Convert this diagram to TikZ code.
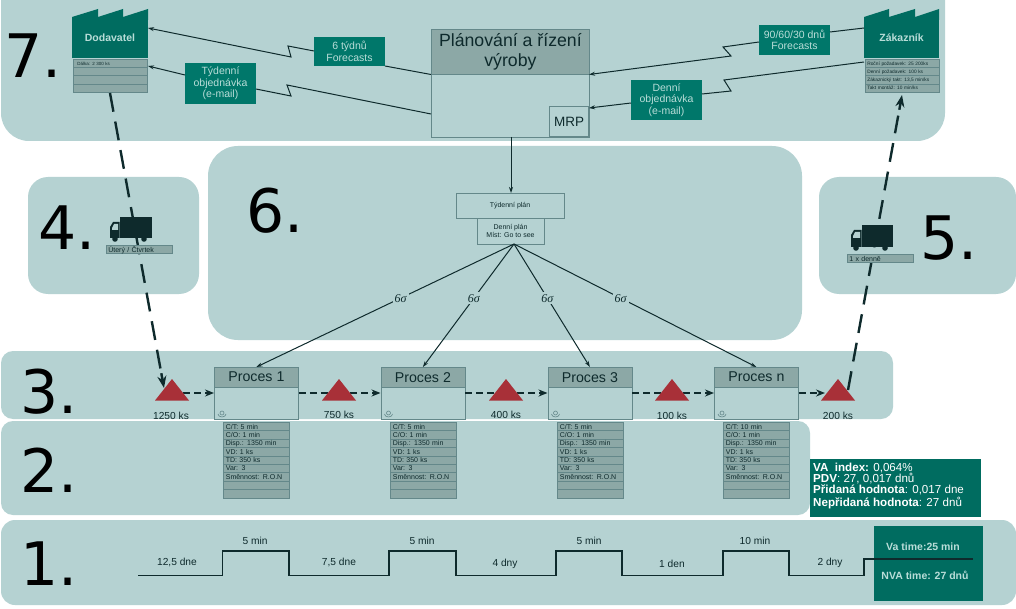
\documentclass[tikz,border=0pt]{standalone}
\usepackage{fontspec}
\setmainfont{Liberation Sans}
\newfontfamily\digitfont{DejaVu Sans}
\newfontfamily\sigmafont{Liberation Serif}
\usetikzlibrary{arrows.meta,calc}
\definecolor{panelc}{HTML}{B5D2D2}
\definecolor{tealdark}{HTML}{006C60}
\definecolor{tealbox}{HTML}{00776A}
\definecolor{tealtext}{HTML}{B9DDD8}
\definecolor{hdrgray}{HTML}{8CA8A6}
\definecolor{edgegray}{HTML}{64888A}
\definecolor{inkc}{HTML}{0E2A2C}
\definecolor{redtri}{HTML}{A83038}
\newcommand{\fsz}[1]{\fontsize{#1}{#1}\selectfont}
\tikzset{
  panel/.style={fill=panelc,draw=none},
  bignum/.style={anchor=base west,inner sep=0pt,text=black,font=\digitfont\fsz{60}},
  tealnote/.style={fill=tealbox,draw=none,text=tealtext,inner sep=0pt,align=center,font=\fsz{10.5},minimum width=71pt,minimum height=#1},
  factorybody/.style={fill=tealdark,draw=none,text=tealtext,inner sep=0pt,font=\bfseries\fsz{#1},minimum width=76pt,minimum height=41pt},
  rowbox/.style={fill=hdrgray,draw=edgegray,line width=.7pt,inner sep=0pt,anchor=north west,align=left,text=inkc,text depth=0pt},
  hdrbox/.style={fill=hdrgray,draw=edgegray,line width=.8pt,inner sep=0pt,text=inkc},
  bodybox/.style={fill=panelc,draw=edgegray,line width=.8pt,inner sep=0pt,text=inkc},
  plain/.style={inner sep=0pt,text=inkc,font=\fsz{10.2}},
  sigmalabel/.style={fill=panelc,inner sep=2pt,text=inkc,font=\sigmafont\itshape\fsz{12}},
  conn/.style={draw=inkc,line width=1pt},
  connarrow/.style={conn,-{Stealth[length=6pt,width=4pt]}},
  longdash/.style={draw=inkc,line width=2.4pt,dash pattern=on 19pt off 10pt},
  shortdash/.style={draw=inkc,line width=2.2pt,dash pattern=on 7pt off 4pt},
  stepline/.style={draw=inkc,line width=1.6pt,line join=miter},
}
\newcommand{\mailicon}[2]{%
  \draw[edgegray,line width=.6pt] (#1,#2) circle (2pt);
  \draw[edgegray,line width=.6pt] (#1-4,#2+1) arc (180:360:4pt and 3pt);
}
\newcommand{\datarows}[4]{% name, x, y, text list
  \foreach \t [count=\i] in {#4}{
    \node[rowbox,minimum width=66pt,minimum height=8.4pt,text width=63pt,font=\fsz{7}] (#1r\i) at (#2,{#3+(\i-1)*8.4}) {\hspace*{1pt}\t};
  }
}
\newcommand{\procbox}[3]{% name, left x, title
  \node[hdrbox,minimum width=84pt,minimum height=19.5pt,anchor=north west,font=\fsz{14.2}] (#1) at (#2,367) {#3};
  \node[bodybox,minimum width=84pt,minimum height=32.5pt,anchor=north west] (#1b) at (#2,386.5) {};
  \mailicon{#2+8}{413}
}
\begin{document}
\begin{tikzpicture}[x=1pt,y=-1pt]
\useasboundingbox[fill=white] (0,0) rectangle (1016,609);

% panels
\fill[panel,rounded corners=28pt] (1,-30) rectangle (945,141);
\fill[panel,rounded corners=30pt] (208,146) rectangle (802,340);
\fill[panel,rounded corners=20pt] (28,177) rectangle (199,294);
\fill[panel,rounded corners=20pt] (819,177) rectangle (1016,294);
\fill[panel,rounded corners=12pt] (1,351) rectangle (893,419);
\fill[panel,rounded corners=12pt] (1,421) rectangle (810,515);
\fill[panel,rounded corners=14pt] (1,520) rectangle (1016,605);

% big numbers
\node[bignum] (n7) at (4,78) {7.};
\node[bignum] (n6) at (246,233) {6.};
\node[bignum] (n4) at (38,250) {4.};
\node[bignum] (n5) at (920,260) {5.};
\node[bignum] (n3) at (20,413) {3.};
\node[bignum] (n2) at (20,492) {2.};
\node[bignum] (n1) at (20,585) {1.};

% triangles' reference points
\coordinate (t1) at (172,393);
\coordinate (t2) at (339,393);
\coordinate (t3) at (506,393);
\coordinate (t4) at (672,393);
\coordinate (t5) at (838,393);

% factories
\fill[tealdark] (72,17) -- (98,9) -- (98,17) -- (123,9) -- (123,17) -- (148,9) -- (148,20) -- (72,20) -- cycle;
\node[factorybody=10.5] (dod) at (110,37.5) {Dodavatel};
\foreach \t [count=\i] in {{Dálka: 2 300 ks},{},{},{}}{
  \node[rowbox,minimum width=74pt,minimum height=8.2pt,text width=72pt,font=\fsz{4.5}] (dodr\i) at (73,{59+(\i-1)*8.2}) {\hspace*{3pt}\t};
}
\fill[tealdark] (864,17) -- (889,9) -- (889,17) -- (915,9) -- (915,17) -- (939,9) -- (939,20) -- (864,20) -- cycle;
\node[factorybody=10.5,minimum width=75pt] (zak) at (901.5,37.5) {Zákazník};
\foreach \t [count=\i] in {{Roční požadavek: 25 200ks},{Denní požadavek: 100 ks},{Zákaznický takt: 13,5 min/ks},{Takt montáž: 10 min/ks}}{
  \node[rowbox,minimum width=74pt,minimum height=8.2pt,text width=72pt,font=\fsz{4.8}] (zakr\i) at (865,{59+(\i-1)*8.2}) {\hspace*{1pt}\t};
}

% planning box
\node[hdrbox,minimum width=158pt,minimum height=45pt,anchor=north west,align=center,font=\fsz{17.7}] (plan) at (431,29) {Plánování a řízení\\[3pt]výroby};
\node[bodybox,minimum width=158pt,minimum height=63pt,anchor=north west] (planb) at (431,74) {};
\node[bodybox,minimum width=39pt,minimum height=30pt,anchor=south east,font=\fsz{13.5}] (mrp) at (589,137) {MRP};

% teal notes
\node[tealnote=29pt] (nf6) at (349.5,51.5) {6 týdnů\\[1pt]Forecasts};
\node[tealnote=41pt] (nty) at (220.5,83.5) {Týdenní\\[1pt]objednávka\\[1pt](e-mail)};
\node[tealnote=40pt] (nde) at (666.5,100) {Denní\\[1pt]objednávka\\[1pt](e-mail)};
\node[tealnote=30pt] (nf9) at (794.5,40) {90/60/30 dnů\\[1pt]Forecasts};

% information connectors (zig-zag)
\coordinate (dodin1) at (148,28);
\coordinate (dodin2) at (148,66);
\coordinate (nf6l) at (314,51);
\coordinate (nf6r) at (385,66);
\coordinate (ntyl) at (185,75);
\coordinate (ntyr) at (256,89);
\coordinate (plantl) at (431,74.5);
\coordinate (planml) at (431,114);
\coordinate (plantr) at (589,74.5);
\coordinate (planmr) at (589,108);
\coordinate (nf9l) at (759,42);
\coordinate (nf9r) at (830,32);
\coordinate (nder) at (702,94);
\coordinate (ndel) at (631,103);
\coordinate (zakl1) at (864,28);
\coordinate (zakl2) at (864,62);
\draw[connarrow] (nf6l) -- (288,46) -- (291,57) -- (dodin1);
\draw[conn] (plantl) -- (nf6r);
\draw[connarrow] (ntyl) -- (dodin2);
\draw[conn] (planml) -- (287,85) -- (291,96) -- (ntyr);
\draw[connarrow] (nf9l) -- (723,47) -- (731,56) -- (plantr);
\draw[conn] (zakl1) -- (nf9r);
\draw[connarrow] (ndel) -- (planmr);
\draw[conn] (zakl2) -- (724,80) -- (731,91) -- (nder);

% weekly / daily plan
\node[bodybox,minimum width=108pt,minimum height=25pt,font=\fsz{7}] (tyd) at (510,205.5) {Týdenní plán};
\node[bodybox,minimum width=67pt,minimum height=26pt,align=center,font=\fsz{7}] (den) at (510.5,231) {Denní plán\\[1pt]Míst: Go to see};
\coordinate (planout) at (511,137);
\coordinate (tydin) at (511,193);
\draw[connarrow] (planout) -- (tydin);
\coordinate (denout) at (514,244);

% processes
\procbox{p1}{214}{Proces 1}
\procbox{p2}{380.5}{Proces 2}
\procbox{p3}{547.5}{Proces 3}
\procbox{p4}{714}{Proces n}

% 6 sigma connectors
\draw[connarrow] (denout) -- node[sigmalabel,pos=.44] (s1) {6σ} (p1.north);
\draw[connarrow] (denout) -- node[sigmalabel,pos=.44] (s2) {6σ} (p2.north);
\draw[connarrow] (denout) -- node[sigmalabel,pos=.44] (s3) {6σ} (p3.north);
\draw[connarrow] (denout) -- node[sigmalabel,pos=.44] (s4) {6σ} (p4.north);

% long dashed shipments
\coordinate (dodout) at (110,93);
\coordinate (t1in) at (164,388);
\coordinate (t5out) at (848,390);
\coordinate (zakin) at (902,95);
\draw[longdash] (dodout) -- ($(dodout)!.94!(t1in)$);
\draw[draw=inkc,line width=2.4pt,-{Stealth[length=12pt,width=9pt]}] ($(dodout)!.95!(t1in)$) -- (t1in);
\draw[longdash] (t5out) -- ($(t5out)!.93!(zakin)$);
\draw[draw=inkc,line width=2.4pt,-{Stealth[length=12pt,width=9pt]}] ($(t5out)!.95!(zakin)$) -- (zakin);

% short dashed flows
\draw[shortdash,-{Stealth[length=9pt,width=7pt]}] (t1) -- (t1 -| p1b.west);
\draw[shortdash] (p1b.east |- t2) -- (t2);
\draw[shortdash,-{Stealth[length=9pt,width=7pt]}] (t2) -- (t2 -| p2b.west);
\draw[shortdash] (p2b.east |- t3) -- (t3);
\draw[shortdash,-{Stealth[length=9pt,width=7pt]}] (t3) -- (t3 -| p3b.west);
\draw[shortdash] (p3b.east |- t4) -- (t4);
\draw[shortdash,-{Stealth[length=9pt,width=7pt]}] (t4) -- (t4 -| p4b.west);
\coordinate (t5in) at (825,393);
\draw[shortdash,-{Stealth[length=9pt,width=7pt]}] (p4b.east |- t5) -- (t5in);

% triangles
\foreach \x in {172,339,506,672,838}{
  \fill[redtri] (\x,379) -- (\x+17,400.5) -- (\x-17,400.5) -- cycle;
}
\node[plain] (q1) at (171,416) {1250 ks};
\node[plain] (q2) at (339,415) {750 ks};
\node[plain] (q3) at (506,415) {400 ks};
\node[plain] (q4) at (672,416) {100 ks};
\node[plain] (q5) at (838,416) {200 ks};

% trucks
\fill[inkc] (120,217) rectangle (152,238);
\fill[inkc] (110,227) -- (113,222) -- (119.5,222) -- (119.5,238) -- (110,238) -- cycle;
\fill[panelc] (112,228) -- (114,224) -- (118,224) -- (118,230) -- (112,230) -- cycle;
\fill[inkc] (115,239) circle (2.8pt) (144,239) circle (2.8pt);
\node[rowbox,minimum width=66pt,minimum height=8.5pt,text width=64pt,font=\fsz{7}] (tr1) at (106,245) {\hspace*{1pt}Úterý / Čtvrtek};
\fill[inkc] (862,225) rectangle (893,247);
\fill[inkc] (851,235) -- (854,230) -- (861.5,230) -- (861.5,247) -- (851,247) -- cycle;
\fill[panelc] (853,236) -- (855,232) -- (860,232) -- (860,238) -- (853,238) -- cycle;
\fill[inkc] (856,248) circle (2.8pt) (885,248) circle (2.8pt);
\node[rowbox,minimum width=66pt,minimum height=8.5pt,text width=64pt,font=\fsz{7}] (tr2) at (847,254) {\hspace*{1pt}1 x denně};

% data boxes
\datarows{a}{223}{422}{{C/T: 5 min},{C/O: 1 min},{Disp.: 1350 min},{VD: 1 ks},{TD: 350 ks},{Var: 3},{Směnnost: R.O.N},{},{}}
\datarows{b}{390}{422}{{C/T: 5 min},{C/O: 1 min},{Disp.: 1350 min},{VD: 1 ks},{TD: 350 ks},{Var: 3},{Směnnost: R.O.N},{},{}}
\datarows{c}{557}{422}{{C/T: 5 min},{C/O: 1 min},{Disp.: 1350 min},{VD: 1 ks},{TD: 350 ks},{Var: 3},{Směnnost: R.O.N},{},{}}
\datarows{d}{723}{422}{{C/T: 10 min},{C/O: 1 min},{Disp.: 1350 min},{VD: 1 ks},{TD: 350 ks},{Var: 3},{Směnnost: R.O.N},{},{}}

% KPI box
\fill[tealdark] (810,459) rectangle (981,517);
\node[anchor=north west,inner sep=0pt,align=left,text=white,font=\fontsize{11.6}{11}\selectfont] (kpi) at (813,462.5)
  {\textbf{VA\ \ index:} 0,064\%\\\textbf{PDV}: 27, 0,017 dnů\\\textbf{Přidaná hodnota}: 0,017 dne\\[2pt]\textbf{Nepřidaná hodnota}: 27 dnů};

% time box and ladder
\node[fill=tealdark,minimum width=109pt,minimum height=75pt,inner sep=0pt,anchor=north west] (tbox) at (874,526) {};
\node[inner sep=0pt,text=tealtext,font=\bfseries\fsz{10.5}] (va) at (923,547) {Va time:25 min};
\node[inner sep=0pt,text=tealtext,font=\bfseries\fsz{10.5}] (nva) at (925,575) {NVA time: 27 dnů};
\draw[stepline] (138,575.5) -- (222.5,575.5) -- (222.5,551) -- (289,551) -- (289,575.5) -- (389,575.5) -- (389,551) -- (456,551) -- (456,575.5) -- (556,575.5) -- (556,551) -- (622,551) -- (622,575.5) -- (723,575.5) -- (723,551) -- (789,551) -- (789,575.5) -- (864,575.5) -- (864,559) -- (973,559);
\node[plain] (l1) at (177,562) {12,5 dne};
\node[plain] (l2) at (255,541) {5 min};
\node[plain] (l3) at (339,562) {7,5 dne};
\node[plain] (l4) at (422,541) {5 min};
\node[plain] (l5) at (505,564) {4 dny};
\node[plain] (l6) at (589,541) {5 min};
\node[plain] (l7) at (672,564) {1 den};
\node[plain] (l8) at (755,541) {10 min};
\node[plain] (l9) at (830,563) {2 dny};
\end{tikzpicture}
\end{document}
